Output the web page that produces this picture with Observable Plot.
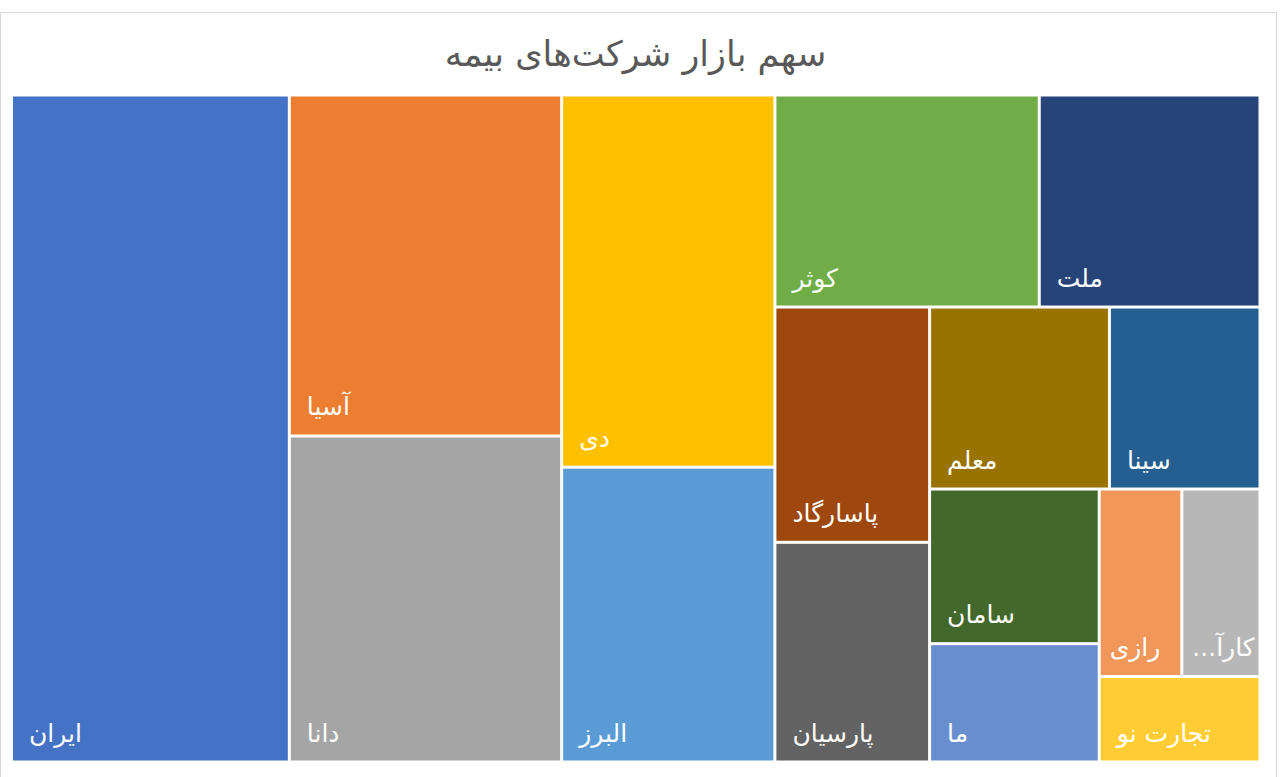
<!DOCTYPE html>
<html><head><meta charset="utf-8">
<script src="https://cdn.jsdelivr.net/npm/d3@7"></script>
<script src="https://cdn.jsdelivr.net/npm/@observablehq/plot@0.6"></script>
<style>
body{margin:0;background:#fff;font-family:"DejaVu Sans",sans-serif}
#wrap{position:relative;width:1280px;height:777px;overflow:hidden}
#frame{position:absolute;left:0;top:12px;width:1277px;height:766px;border:1px solid #d9d9d9;box-sizing:border-box}
#title{position:absolute;left:0;top:32px;width:1271px;text-align:center;font-size:35px;color:#595959;direction:rtl;line-height:44px}
#plot{position:absolute;left:0;top:84px}
</style></head><body>
<div id="wrap"><div id="frame"></div><div id="title">سهم بازار شرکت‌های بیمه</div><div id="plot"></div></div>
<script>
// Market share (%) of insurance companies, estimated from tile areas
const companies = ["ایران","آسیا","دانا","دی","البرز","کوثر","ملت","پاسارگاد","پارسیان","معلم","سینا","سامان","ما","رازی","کارآفرین","تجارت نو"];
const shares    = [22.25, 11.15, 10.66, 9.53, 7.55, 6.73, 5.62, 4.37, 4.08, 3.93, 3.29, 3.15, 2.41, 1.86, 1.76, 1.65];
const labels    = ["ایران","آسیا","دانا","دی","البرز","کوثر","ملت","پاسارگاد","پارسیان","معلم","سینا","سامان","ما","رازی","کارآ...\u200F","تجارت نو"];
const colors    = ["#4472C4","#ED7D31","#A5A5A5","#FFC000","#5B9BD5","#70AD47","#264478","#9E480E","#636363","#997300","#255E91","#43682B","#698ED0","#F1975A","#B7B7B7","#FFCD33"];

const LW = 1558.75, LH = 665;
const table = companies.map((c, i) => ({name: c, label: labels[i], share: shares[i], color: colors[i]}));
const root = d3.hierarchy({children: table}).sum(d => d.share || 0).sort((a, b) => b.value - a.value);
d3.treemap().tile(d3.treemapSquarify.ratio(1)).size([LW, LH])(root);
const leaves = root.leaves().map(l => ({...l.data, x0: l.x0, x1: l.x1, y0: l.y0, y1: l.y1}));
const narrow = d => (d.x1 - d.x0) < 120;

const textOpts = {x: "x0", y: "y1", text: "label", fill: "white", textAnchor: "start", lineAnchor: "middle", dy: -29, fontSize: 25};

const chart = Plot.plot({
  width: 1280, height: 693,
  marginLeft: 11.5, marginRight: 20, marginTop: 11, marginBottom: 15,
  style: {fontFamily: "DejaVu Sans, sans-serif", background: "transparent"},
  x: {domain: [0, LW], axis: null},
  y: {domain: [0, LH], reverse: true, axis: null},
  color: {type: "identity"},
  marks: [
    Plot.rect(leaves, {x1: "x0", x2: "x1", y1: "y0", y2: "y1", fill: "color", inset: 1.5}),
    Plot.text(leaves, {...textOpts, filter: d => !narrow(d), dx: 17}),
    Plot.text(leaves, {...textOpts, filter: narrow, dx: 10})
  ]
});
document.getElementById("plot").append(chart);
</script>
</body></html>
